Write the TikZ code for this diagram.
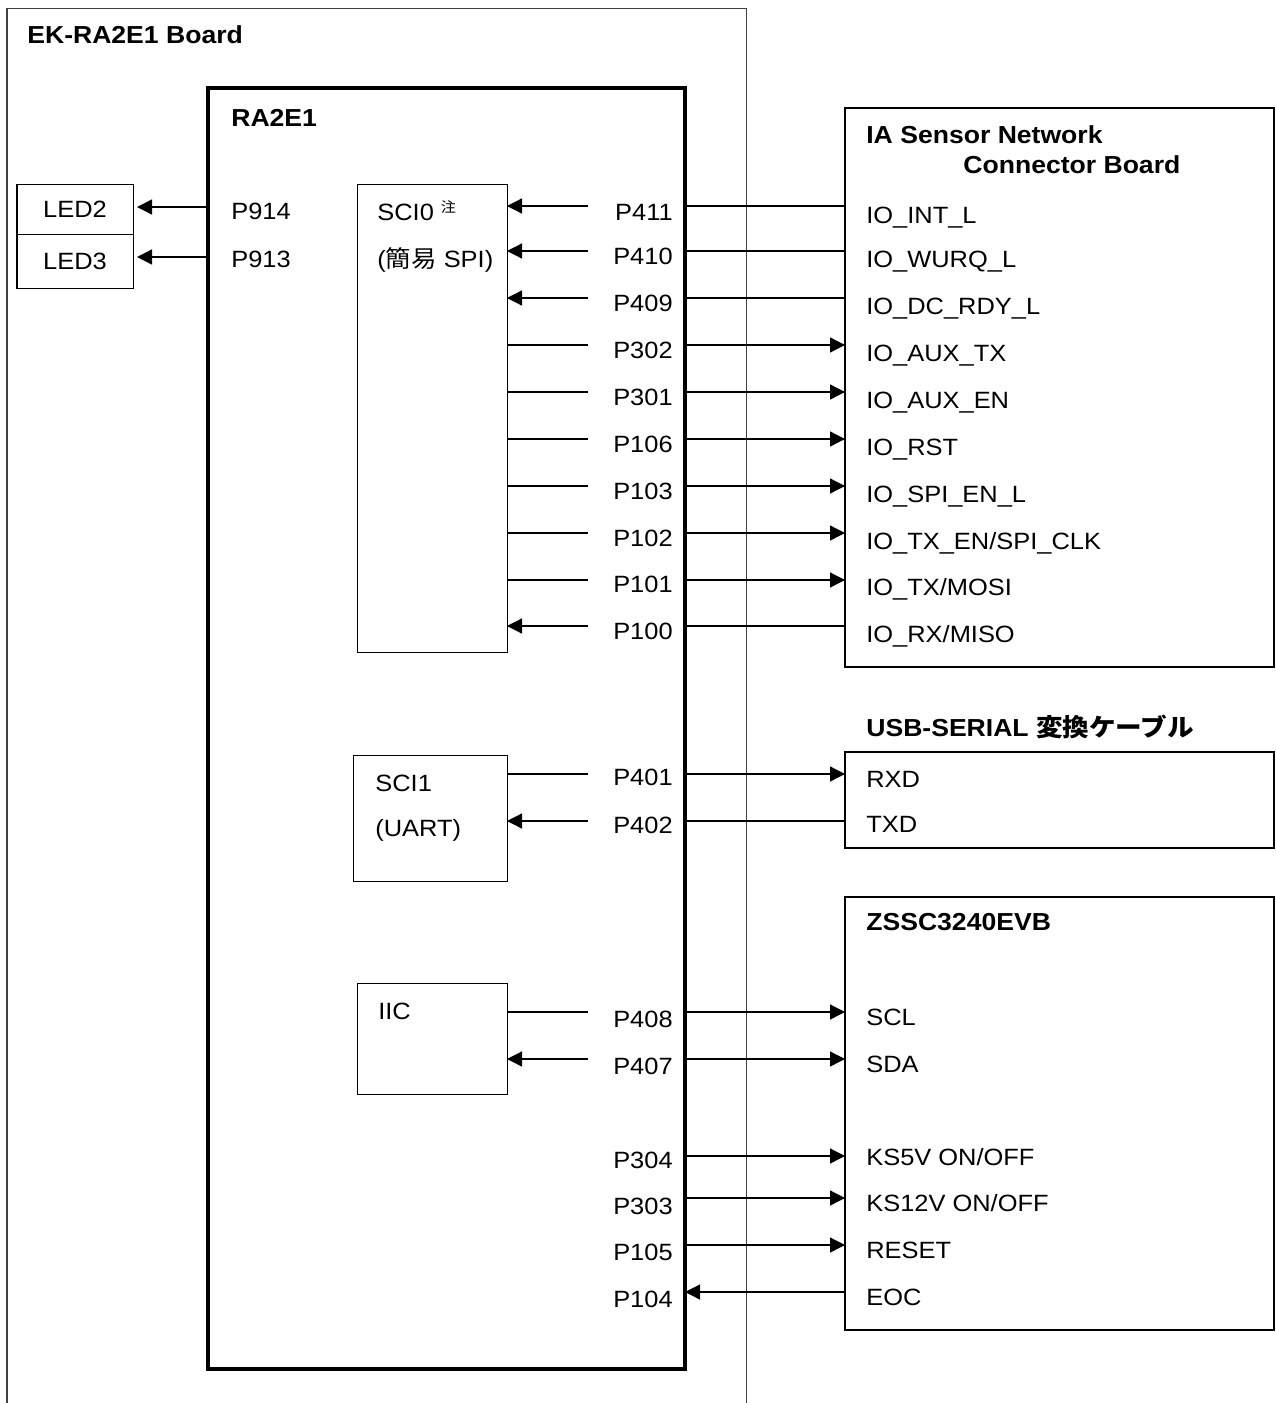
\documentclass[tikz,border=0pt]{standalone}
\usepackage{fontspec}
\setmainfont{Liberation Sans}[FakeStretch=1.08]
\newfontfamily\cjk{Noto Sans CJK JP}[FakeStretch=1.08]
\usetikzlibrary{arrows.meta}

\begin{document}
\begin{tikzpicture}[x=0.2mm, y=-0.2mm, >={Triangle[length=3mm,width=3mm]},
    font=\fontsize{13.4}{16}\selectfont,
    blk/.style={draw, anchor=north west, inner sep=0pt, outer sep=0pt, line width=0.57pt},
    extblk/.style={blk, line width=1.4pt},
    txt/.style={anchor=base west, inner sep=0pt},
    hdr/.style={txt, font=\fontsize{14}{17}\selectfont\bfseries},
    pinlabel/.style={anchor=base east, inner sep=0pt},
    wire/.style={line width=0.74pt}]
    \useasboundingbox (0,0) rectangle (1276,1403);
    % EK-RA2E1 board (open at the bottom)
    \draw[line width=0.57pt, black!75] (7,1403) |- (746,8) -- (746,1403);
    \node[hdr] (boardname) at (27,43) {EK-RA2E1 Board};
    % MCU
    \node[blk, line width=2.3pt, minimum width=95.4mm, minimum height=256.2mm] (mcu) at (208,88) {};
    \node[hdr] (mcuname) at (231,126) {RA2E1};
    % LEDs
    \node[blk, minimum width=23.2mm, minimum height=10mm] (led2) at (17,184) {LED2};
    \node[blk, minimum width=23.2mm, minimum height=10.8mm] (led3) at (17,234) {LED3};
    \node[txt] (P914) at (231,219) {P914};
    \node[txt] (P913) at (231,267) {P913};
    \coordinate (a914) at (0,207);
    \coordinate (a913) at (0,257);
    \draw[wire, ->, shorten >=0.8mm] (mcu.west |- a914) -- (led2.east |- a914);
    \draw[wire, ->, shorten >=0.8mm] (mcu.west |- a913) -- (led3.east |- a913);
    % peripheral blocks
    \node[blk, minimum width=30mm, minimum height=93.6mm] (sci0) at (357,184) {};
    \node[txt] (sci0name) at (377,220) {SCI0 \raisebox{4.5pt}{\cjk\fontsize{8}{8}\selectfont 注}};
    \node[txt] (sci0mode) at (377,267) {({\cjk 簡易} SPI)};
    \node[blk, minimum width=30.8mm, minimum height=25.2mm] (sci1) at (353,755) {};
    \node[txt] (sci1name) at (375,791) {SCI1};
    \node[txt] (sci1mode) at (375,836) {(UART)};
    \node[blk, minimum width=30mm, minimum height=22.2mm] (iic) at (357,983) {};
    \node[txt] (iicname) at (378,1019) {IIC};
    % external boards
    \node[extblk, minimum width=85.8mm, minimum height=111.8mm] (ia) at (845,108) {};
    \node[hdr] (ianame) at (866,143) {IA Sensor Network};
    \node[hdr] (ianame2) at (963,173) {Connector Board};
    \node[hdr] (usbname) at (866,736) {USB-SERIAL {\cjk 変換ケーブル}};
    \node[extblk, minimum width=85.8mm, minimum height=19.2mm] (usb) at (845,752) {};
    \node[extblk, minimum width=85.8mm, minimum height=86.6mm] (zssc) at (845,897) {};
    \node[hdr] (zsscname) at (866,930) {ZSSC3240EVB};
    % pins and signal names
    \foreach \ly/\ty/\sy/\pin/\sig in {
        206/220/223/P411/IO\_INT\_L,
        251/264/267/P410/IO\_WURQ\_L,
        298/311/314/P409/IO\_DC\_RDY\_L,
        345/358/361/P302/IO\_AUX\_TX,
        392/405/408/P301/IO\_AUX\_EN,
        439/452/455/P106/IO\_RST,
        486/499/502/P103/IO\_SPI\_EN\_L,
        533/546/549/P102/{IO\_TX\_EN/SPI\_CLK},
        580/592/595/P101/{IO\_TX/MOSI},
        626/639/642/P100/{IO\_RX/MISO},
        774/785/787/P401/RXD,
        821/833/832/P402/TXD,
        1012/1027/1025/P408/SCL,
        1059/1074/1072/P407/SDA,
        1156/1168/1165/P304/{KS5V ON/OFF},
        1198/1214/1211/P303/{KS12V ON/OFF},
        1245/1260/1258/P105/RESET,
        1292/1307/1305/P104/EOC} {
        \coordinate (c\pin) at (588,\ly);
        \node[pinlabel] (\pin) at (673,\ty) {\pin};
        \node[txt] (s\pin) at (866,\sy) {\sig};
    }
    % into the SCI/IIC blocks
    \foreach \p/\b in {P411/sci0, P410/sci0, P409/sci0, P100/sci0, P402/sci1, P407/iic}
        \draw[wire, ->] (c\p) -- (\b.east |- c\p);
    % out of the SCI/IIC blocks
    \foreach \p/\b in {P302/sci0, P301/sci0, P106/sci0, P103/sci0, P102/sci0, P101/sci0, P401/sci1, P408/iic}
        \draw[wire] (\b.east |- c\p) -- (c\p);
    % to the external boards
    \foreach \p/\d in {P302/ia, P301/ia, P106/ia, P103/ia, P102/ia, P101/ia, P401/usb, P408/zssc, P407/zssc, P304/zssc, P303/zssc, P105/zssc}
        \draw[wire, ->] (mcu.east |- c\p) -- (\d.west |- c\p);
    % from the external boards
    \foreach \p/\d in {P411/ia, P410/ia, P409/ia, P100/ia, P402/usb}
        \draw[wire] (\d.west |- c\p) -- (mcu.east |- c\p);
    \draw[wire, ->] (zssc.west |- cP104) -- (mcu.east |- cP104);
\end{tikzpicture}
\end{document}
